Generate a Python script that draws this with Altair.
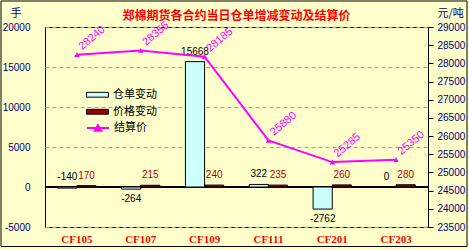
import altair as alt
import pandas as pd

categories = ["CF105", "CF107", "CF109", "CF111", "CF201", "CF203"]
warehouse_change = [-140, -264, 15668, 322, -2762, 0]
price_change = [170, 215, 240, 235, 260, 280]
settle_price = [28240, 28355, 28185, 25880, 25285, 25350]
series_names = ["仓单变动", "价格变动"]
line_name = "结算价"
left_ticks = [-5000, 0, 5000, 10000, 15000, 20000]
right_ticks = [23500, 24000, 24500, 25000, 25500, 26000, 26500, 27000, 27500, 28000, 28500, 29000]

rows = []
for c, w, p in zip(categories, warehouse_change, price_change):
    rows.append({"cat": c, "series": series_names[0], "value": w, "lab": str(w)})
    rows.append({"cat": c, "series": series_names[1], "value": p, "lab": str(p)})
dfb = pd.DataFrame(rows)
dfb["ly"] = dfb["value"].clip(lower=0)
dfp = pd.DataFrame({"cat": categories, "price": settle_price, "name": line_name,
                    "lab": [str(v) for v in settle_price]})

NAVY = "#000080"
num_font = "Liberation Sans"
cjk = "Noto Sans CJK SC"

x_enc = alt.X("cat:N", sort=categories,
              scale=alt.Scale(domain=categories, paddingInner=0.4, paddingOuter=0.2),
              axis=alt.Axis(title=None, labelColor="#FF0000", labelFont="Liberation Serif",
                            labelFontWeight="bold", labelFontSize=11, ticks=False,
                            domain=False, labelPadding=6, labelAngle=0))
xo_enc = alt.XOffset("series:N", scale=alt.Scale(domain=series_names, paddingInner=0, paddingOuter=0))

yL_axis = alt.Axis(orient="left", values=left_ticks, title="手", titleAngle=0, titleX=-35, titleY=-14,
                   titleAlign="left", titleBaseline="middle", titleColor=NAVY, titleFont=cjk,
                   titleFontSize=11, titleFontWeight="normal", labelColor=NAVY, labelFont=num_font,
                   labelFontSize=10, ticks=False, labelPadding=15,
                   labelOverlap=False, labelFlush=False,
                   grid=True, gridColor="#A0A0A0", gridDash=[4, 3], domain=False,
                   labelExpr="'' + datum.value")
yL_scale = alt.Scale(domain=[-5000, 20000], nice=False)

def yl(field):
    return alt.Y(field, scale=yL_scale, axis=yL_axis)

zero_rule = alt.Chart(dfb).transform_calculate(z="0").mark_rule(color="black", strokeWidth=1).encode(
    y=yl("z:Q"))

bars = alt.Chart(dfb).mark_bar(stroke="black", strokeWidth=1).encode(
    x=x_enc, xOffset=xo_enc,
    y=yl("value:Q"),
    color=alt.Color("series:N", scale=alt.Scale(domain=series_names, range=["#CCFFFF", "#990000"]),
                    legend=alt.Legend(title=None, orient="none", legendX=41, legendY=59.5,
                                      symbolType="M-1,-0.22H1V0.22H-1Z", symbolSize=484,
                                      symbolStrokeColor="black", symbolStrokeWidth=1,
                                      labelFont=cjk, labelFontSize=11, labelColor="black",
                                      labelOffset=4, clipHeight=16.5, padding=0, rowPadding=0)))

w_above = alt.Chart(dfb).transform_filter(
    f"datum.series == '{series_names[0]}' && datum.value > -200").mark_text(
    baseline="bottom", dy=-5, fontSize=10, font=num_font, color="black").encode(
    x=x_enc, xOffset=xo_enc, y=yl("ly:Q"), text="lab:N")

w_below = alt.Chart(dfb).transform_filter(
    f"datum.series == '{series_names[0]}' && datum.value <= -200").mark_text(
    baseline="top", dy=5, fontSize=10, font=num_font, color="black").encode(
    x=x_enc, xOffset=xo_enc, y=yl("value:Q"), text="lab:N")

p_labels = alt.Chart(dfb).transform_filter(
    f"datum.series == '{series_names[1]}'").mark_text(
    baseline="bottom", dy=-5, fontSize=10, font=num_font, color="#B00000").encode(
    x=x_enc, xOffset=xo_enc, y=yl("value:Q"), text="lab:N")

left = alt.layer(zero_rule, bars, w_above, w_below, p_labels)

yR_scale = alt.Scale(domain=[23500, 29000], nice=False, zero=False)
yR_axis = alt.Axis(orient="right", values=right_ticks, title="元/吨", titleAngle=0, titleX=9, titleY=-14,
                   titleAlign="left", titleBaseline="middle", titleColor=NAVY, titleFont=cjk,
                   titleFontSize=11, titleFontWeight="normal", labelColor=NAVY, labelFont=num_font,
                   labelFontSize=10, tickSize=5, tickColor="black", labelPadding=4,
                   labelOverlap=False, labelFlush=False, grid=False, domain=False,
                   labelExpr="'' + datum.value")

def yr(field):
    return alt.Y(field, scale=yR_scale, axis=yR_axis)

color_line = alt.Color("name:N", scale=alt.Scale(domain=[line_name], range=["#FF00FF"]),
                       legend=alt.Legend(title=None, orient="none", legendX=41, legendY=92.75,
                                         symbolType="M-1,0H1M-0.3,0.25L0,-0.25L0.3,0.25Z",
                                         symbolSize=484, symbolFillColor="#FF00FF",
                                         symbolStrokeColor="#FF00FF", symbolStrokeWidth=2,
                                         labelFont=cjk, labelFontSize=11, labelColor="black",
                                         labelOffset=4, clipHeight=16.5, padding=0))

line = alt.Chart(dfp).mark_line(strokeWidth=2).encode(
    x=x_enc, y=yr("price:Q"), color=color_line)
pts = alt.Chart(dfp).mark_point(shape="triangle-up", filled=True, size=30, opacity=1).encode(
    x=x_enc, y=yr("price:Q"), color=color_line)
plabels = alt.Chart(dfp).mark_text(angle=320, align="left", baseline="middle", dx=7, dy=-3,
                                   fontSize=11, font=num_font, color="#FF00FF").encode(
    x=x_enc, y=yr("price:Q"), text="lab:N")

right = alt.layer(line, pts, plabels)

frame = alt.Chart(pd.DataFrame({"a": [0]})).mark_rect(fillOpacity=0, stroke="black", strokeWidth=1).encode(
    x=alt.value(-44), x2=alt.value(422), y=alt.value(-26), y2=alt.value(219.5))

chart = alt.layer(left, right, frame).resolve_scale(
    y="independent", color="independent").properties(
    width=383, height=200,
    title=alt.TitleParams(text="郑棉期货各合约当日仓单增减变动及结算价", color="#FF0000",
                          fontSize=12, fontWeight="bold", font=cjk, anchor="middle",
                          frame="group", offset=-22),
    padding={"left": 45, "top": 27, "right": 41, "bottom": 23},
    autosize="none", background="#FFFFCC").configure_view(
    stroke="black", fill="#FFFFCC").configure_axis(labelOverlap=False, labelFlush=False)

chart.save("out.html", embed_options={"renderer": "svg", "actions": False})
